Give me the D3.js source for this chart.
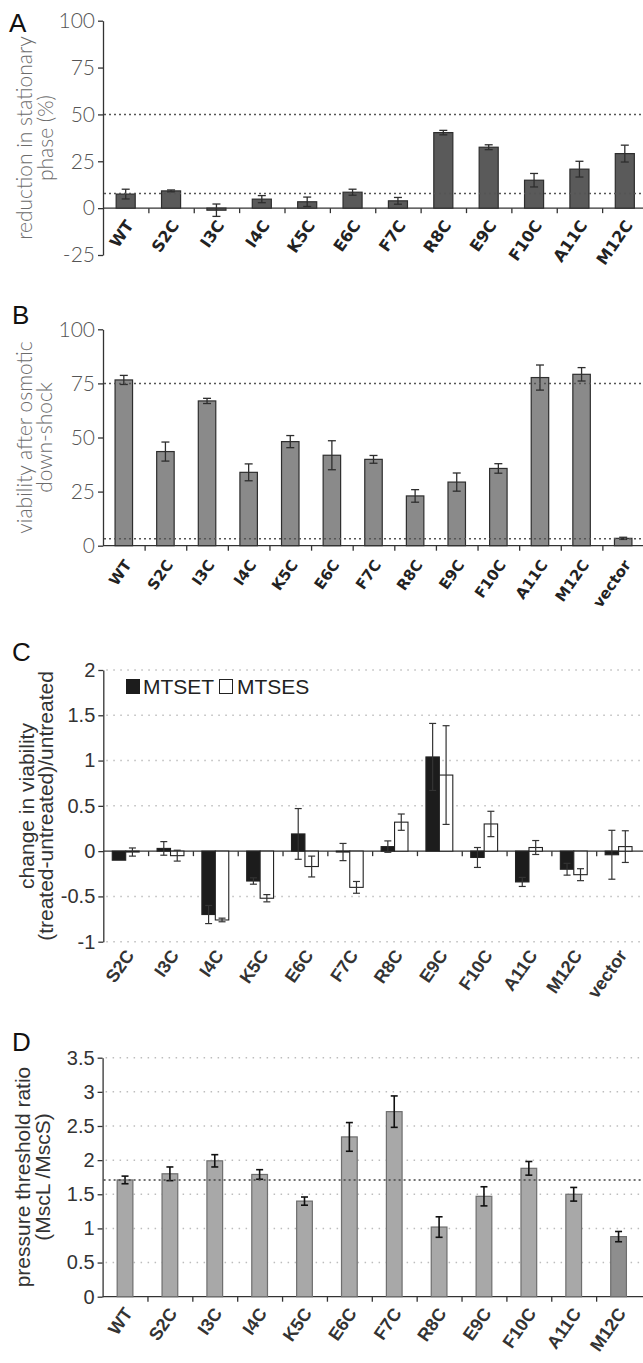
<!DOCTYPE html>
<html>
<head>
<meta charset="utf-8">
<script src="https://cdn.jsdelivr.net/npm/d3@7"></script>
<style>
  body { margin: 0; background: #fff; }
  svg { display: block; }
</style>
</head>
<body>
<svg id="chart" width="643" height="1363"></svg>
<script>
// ---- panel A : reduction in stationary phase (%)
var mutantsA = ["WT", "S2C", "I3C", "I4C", "K5C", "E6C", "F7C", "R8C", "E9C", "F10C", "A11C", "M12C"];
var reductionMean = [7.5, 9.2, -1.1, 4.8, 3.4, 8.5, 3.9, 40.3, 32.5, 14.9, 20.8, 29.1];
var reductionErr = [2.6, 0.5, 3.3, 1.9, 2.5, 1.6, 1.8, 1.2, 1.3, 3.6, 4.2, 4.5];
var ticksA = [-25, 0, 25, 50, 75, 100];
var refLinesA = [50, 7.8];

// ---- panel B : viability after osmotic down-shock
var mutantsB = ["WT", "S2C", "I3C", "I4C", "K5C", "E6C", "F7C", "R8C", "E9C", "F10C", "A11C", "M12C", "vector"];
var viabilityMean = [76.6, 43.5, 66.9, 33.9, 48.1, 41.8, 39.9, 23.0, 29.4, 35.7, 77.7, 79.2, 3.4];
var viabilityErr = [2.1, 4.4, 1.2, 3.9, 2.8, 6.7, 1.8, 2.9, 4.2, 2.2, 5.8, 3.1, 0.5];
var ticksB = [0, 25, 50, 75, 100];
var refLinesB = [75, 3.2];

// ---- panel C : change in viability, MTSET / MTSES
var mutantsC = ["S2C", "I3C", "I4C", "K5C", "E6C", "F7C", "R8C", "E9C", "F10C", "A11C", "M12C", "vector"];
var reagents = ["MTSET", "MTSES"];
var mtsetMean = [-0.10, 0.03, -0.70, -0.33, 0.19, -0.01, 0.05, 1.04, -0.07, -0.34, -0.20, -0.04];
var mtsetErr = [0, 0.075, 0.10, 0.035, 0.28, 0.095, 0.063, 0.37, 0.11, 0.05, 0.065, 0.27];
var mtsesMean = [-0.01, -0.05, -0.76, -0.52, -0.17, -0.40, 0.32, 0.84, 0.30, 0.04, -0.26, 0.05];
var mtsesErr = [0.045, 0.06, 0.02, 0.04, 0.115, 0.065, 0.09, 0.545, 0.14, 0.077, 0.066, 0.175];
var ticksC = [-1, -0.5, 0, 0.5, 1, 1.5, 2];

// ---- panel D : pressure threshold ratio
var mutantsD = ["WT", "S2C", "I3C", "I4C", "K5C", "E6C", "F7C", "R8C", "E9C", "F10C", "A11C", "M12C"];
var thresholdMean = [1.71, 1.80, 1.99, 1.79, 1.40, 2.34, 2.71, 1.02, 1.47, 1.88, 1.50, 0.88];
var thresholdErr = [0.056, 0.10, 0.09, 0.07, 0.06, 0.21, 0.23, 0.15, 0.14, 0.10, 0.10, 0.075];
var ticksD = [0, 0.5, 1, 1.5, 2, 2.5, 3, 3.5];
var refLinesD = [1.71];

var W = 643;
var svg = d3.select("#chart");

var gothic = { tick: "Lato, 'DejaVu Sans', sans-serif", label: "'DejaVu Sans', Lato, sans-serif" };
var arial = { tick: "'Liberation Sans', Arial, sans-serif", label: "'Liberation Sans', Arial, sans-serif" };

function panelLetter(txt, x, y) {
    svg.append("text").attr("x", x).attr("y", y)
        .attr("font-family", "'Liberation Sans', Arial, sans-serif")
        .attr("font-size", 26).attr("fill", "#111").text(txt);
}

function yTitle(lines, xs, cy, o) {
    lines.forEach(function (t, i) {
        svg.append("text")
            .attr("transform", "translate(" + xs[i] + "," + cy + ") rotate(-90)")
            .attr("text-anchor", "middle").attr("dy", "0.35em")
            .attr("font-family", o.family).attr("font-weight", o.weight)
            .attr("font-size", o.size).attr("fill", o.color).text(t);
    });
}

// shared axes: y axis on the left, zero line with boundary ticks, slanted category labels
function drawAxes(g, x, y, o) {
    var x0 = o.xRange[0], x1 = o.xRange[1];
    var n = x.domain().length;

    if (o.grid) {
        g.append("g").selectAll("line").data(o.ticks.filter(function (d) { return d !== 0; }))
            .enter().append("line")
            .attr("x1", x0 + 3).attr("x2", W)
            .attr("y1", function (d) { return y(d); }).attr("y2", function (d) { return y(d); })
            .attr("stroke", "#bdbdbd").attr("stroke-width", 1.5)
            .attr("stroke-dasharray", "1.5,5.5");
    }

    var ya = g.append("g").attr("transform", "translate(" + x0 + ",0)")
        .call(d3.axisLeft(y).tickValues(o.ticks).tickSize(5).tickSizeOuter(0).tickPadding(3)
            .tickFormat(function (d) { return String(d); }));
    ya.select(".domain").attr("stroke", o.axisColor).attr("stroke-width", 1.3);
    ya.selectAll(".tick line").attr("stroke", o.axisColor).attr("stroke-width", 1.3);
    ya.selectAll("text").attr("font-family", o.font.tick).attr("font-weight", o.tickWeight)
        .attr("font-size", o.tickSize).attr("fill", o.tickColor);

    var xb = d3.scaleLinear().domain([0, n]).range([x0, x1]);
    var xa = g.append("g").attr("transform", "translate(0," + y(0) + ")")
        .call(d3.axisBottom(xb).tickValues(d3.range(1, n)).tickSize(5).tickSizeOuter(0).tickFormat(""));
    xa.select(".domain").attr("stroke", o.axisColor).attr("stroke-width", 1.3)
        .attr("d", "M" + x0 + ",0H" + W);
    xa.selectAll(".tick line").attr("stroke", o.axisColor).attr("stroke-width", 1.3);

    // category labels, rotated, right end under the bar
    var labelY = y(o.labelAt) + o.labelShift[1];
    g.append("g").selectAll("text").data(x.domain()).enter().append("text")
        .attr("transform", function (d) {
            return "translate(" + (x(d) + x.bandwidth() / 2 + o.labelShift[0]) + "," + labelY + ") rotate(-55)";
        })
        .attr("text-anchor", "end").attr("dy", "0.35em")
        .attr("font-family", o.font.label).attr("font-weight", "bold")
        .attr("font-size", o.labelSize).attr("fill", o.labelColor)
        .text(function (d) { return d; });
}

function errorBars(g, data, cx, y, capW, color, width) {
    var eb = g.append("g").attr("stroke", color).attr("stroke-width", width);
    var d0 = data.filter(function (d) { return d.err > 0; });
    eb.selectAll("line.v").data(d0).enter().append("line").attr("class", "v")
        .attr("x1", cx).attr("x2", cx)
        .attr("y1", function (d) { return y(d.v + d.err); })
        .attr("y2", function (d) { return y(d.v - d.err); });
    eb.selectAll("line.t").data(d0).enter().append("line").attr("class", "t")
        .attr("x1", function (d) { return cx(d) - capW / 2; }).attr("x2", function (d) { return cx(d) + capW / 2; })
        .attr("y1", function (d) { return y(d.v + d.err); }).attr("y2", function (d) { return y(d.v + d.err); });
    eb.selectAll("line.b").data(d0).enter().append("line").attr("class", "b")
        .attr("x1", function (d) { return cx(d) - capW / 2; }).attr("x2", function (d) { return cx(d) + capW / 2; })
        .attr("y1", function (d) { return y(d.v - d.err); }).attr("y2", function (d) { return y(d.v - d.err); });
}

function simplePanel(o) {
    var g = svg.append("g");
    var x = d3.scaleBand().domain(o.cats).range(o.xRange).paddingInner(o.pad).paddingOuter(o.pad / 2);
    var y = d3.scaleLinear().domain(o.domain).range(o.yRange);
    var data = o.cats.map(function (c, i) { return { c: c, v: o.means[i], err: o.errs[i] }; });

    drawAxes(g, x, y, o);

    g.append("g").selectAll("rect").data(data).enter().append("rect")
        .attr("x", function (d) { return x(d.c); })
        .attr("width", x.bandwidth())
        .attr("y", function (d) { return y(Math.max(0, d.v)); })
        .attr("height", function (d) { return Math.abs(y(d.v) - y(0)); })
        .attr("fill", function (d) { return (o.fillFor && o.fillFor[d.c]) || o.fill; })
        .attr("stroke", o.barStroke).attr("stroke-width", 1.2);

    errorBars(g, data, function (d) { return x(d.c) + x.bandwidth() / 2; }, y, o.capW, o.errColor, o.errWidth);

    g.append("g").selectAll("line").data(o.refs).enter().append("line")
        .attr("x1", o.xRange[0] + 1).attr("x2", W)
        .attr("y1", function (d) { return y(d); }).attr("y2", function (d) { return y(d); })
        .attr("stroke", o.refColor).attr("stroke-width", 1.5).attr("stroke-dasharray", "2,3");
}

// ---------------- A
panelLetter("A", 9, 32);
yTitle(["reduction in stationary", "phase (%)"], [25, 46], 138,
    { family: gothic.tick, weight: 300, size: 21, color: "#6b6b6b" });
simplePanel({
    cats: mutantsA, means: reductionMean, errs: reductionErr,
    domain: [-25, 100], yRange: [255, 20.7], xRange: [103, 647.5], pad: 0.58,
    ticks: ticksA, refs: refLinesA, grid: false,
    fill: "#5a5a5a", barStroke: "#2e2e2e", errColor: "#2e2e2e", errWidth: 1.3, capW: 8,
    refColor: "#555", axisColor: "#333",
    font: gothic, tickWeight: 300, tickSize: 21, tickColor: "#555",
    labelAt: 0, labelSize: 16, labelColor: "#222", labelShift: [4, 14]
});

// ---------------- B
panelLetter("B", 12, 324);
yTitle(["viability after osmotic", "down-shock"], [25, 45], 437.5,
    { family: gothic.tick, weight: 300, size: 21, color: "#6b6b6b" });
simplePanel({
    cats: mutantsB, means: viabilityMean, errs: viabilityErr,
    domain: [0, 100], yRange: [545.7, 329.3], xRange: [103, 644], pad: 0.58,
    ticks: ticksB, refs: refLinesB, grid: false,
    fill: "#8a8a8a", barStroke: "#2e2e2e", errColor: "#2e2e2e", errWidth: 1.3, capW: 8,
    refColor: "#555", axisColor: "#333",
    font: gothic, tickWeight: 300, tickSize: 21, tickColor: "#555",
    labelAt: 0, labelSize: 15, labelColor: "#222", labelShift: [4, 16]
});

// ---------------- C
panelLetter("C", 12, 661);
yTitle(["change in viability", "(treated-untreated)/untreated"], [27, 46], 806,
    { family: arial.label, weight: "normal", size: 21, color: "#333" });
(function () {
    var o = {
        xRange: [103.3, 641], ticks: ticksC, grid: true, axisColor: "#333",
        font: arial, tickWeight: "normal", tickSize: 20, tickColor: "#333",
        labelAt: -1, labelSize: 18, labelColor: "#333", labelShift: [4, 10]
    };
    var g = svg.append("g");
    var x = d3.scaleBand().domain(mutantsC).range(o.xRange).paddingInner(0.4).paddingOuter(0.2);
    var xs = d3.scaleBand().domain(reagents).range([0, x.bandwidth()]);
    var y = d3.scaleLinear().domain([-1, 2]).range([941.7, 670]);
    drawAxes(g, x, y, o);

    var series = [
        { key: "MTSET", means: mtsetMean, errs: mtsetErr, fill: "#1c1c1c" },
        { key: "MTSES", means: mtsesMean, errs: mtsesErr, fill: "#fff" }
    ];
    series.forEach(function (s) {
        var data = mutantsC.map(function (c, i) { return { c: c, v: s.means[i], err: s.errs[i] }; });
        g.append("g").selectAll("rect").data(data).enter().append("rect")
            .attr("x", function (d) { return x(d.c) + xs(s.key); })
            .attr("width", xs.bandwidth())
            .attr("y", function (d) { return y(Math.max(0, d.v)); })
            .attr("height", function (d) { return Math.abs(y(d.v) - y(0)); })
            .attr("fill", s.fill).attr("stroke", "#222").attr("stroke-width", 1.1);
        errorBars(g, data, function (d) { return x(d.c) + xs(s.key) + xs.bandwidth() / 2; }, y, 7, "#333", 1.2);
    });

    // legend
    var lg = g.append("g").attr("font-family", arial.label).attr("font-size", 21).attr("fill", "#222");
    lg.append("rect").attr("x", 126).attr("y", 679).attr("width", 14).attr("height", 15).attr("fill", "#1c1c1c");
    lg.append("text").attr("x", 143).attr("y", 694).text("MTSET");
    lg.append("rect").attr("x", 219.5).attr("y", 679.5).attr("width", 13).attr("height", 14)
        .attr("fill", "#fff").attr("stroke", "#222").attr("stroke-width", 1);
    lg.append("text").attr("x", 237).attr("y", 694).text("MTSES");
})();

// ---------------- D
panelLetter("D", 12, 1051);
yTitle(["pressure threshold ratio", "(MscL /MscS)"], [23, 43], 1177,
    { family: arial.label, weight: "normal", size: 21, color: "#333" });
simplePanel({
    cats: mutantsD, means: thresholdMean, errs: thresholdErr,
    domain: [0, 3.5], yRange: [1296.7, 1057.7], xRange: [102.6, 641], pad: 0.65,
    ticks: ticksD, refs: refLinesD, grid: true,
    fill: "#a8a8a8", fillFor: { "M12C": "#8e8e8e" }, barStroke: "#6e6e6e",
    errColor: "#111", errWidth: 1.6, capW: 7,
    refColor: "#444", axisColor: "#333",
    font: arial, tickWeight: "normal", tickSize: 20, tickColor: "#333",
    labelAt: 0, labelSize: 18, labelColor: "#333", labelShift: [3, 13]
});
</script>
</body>
</html>
